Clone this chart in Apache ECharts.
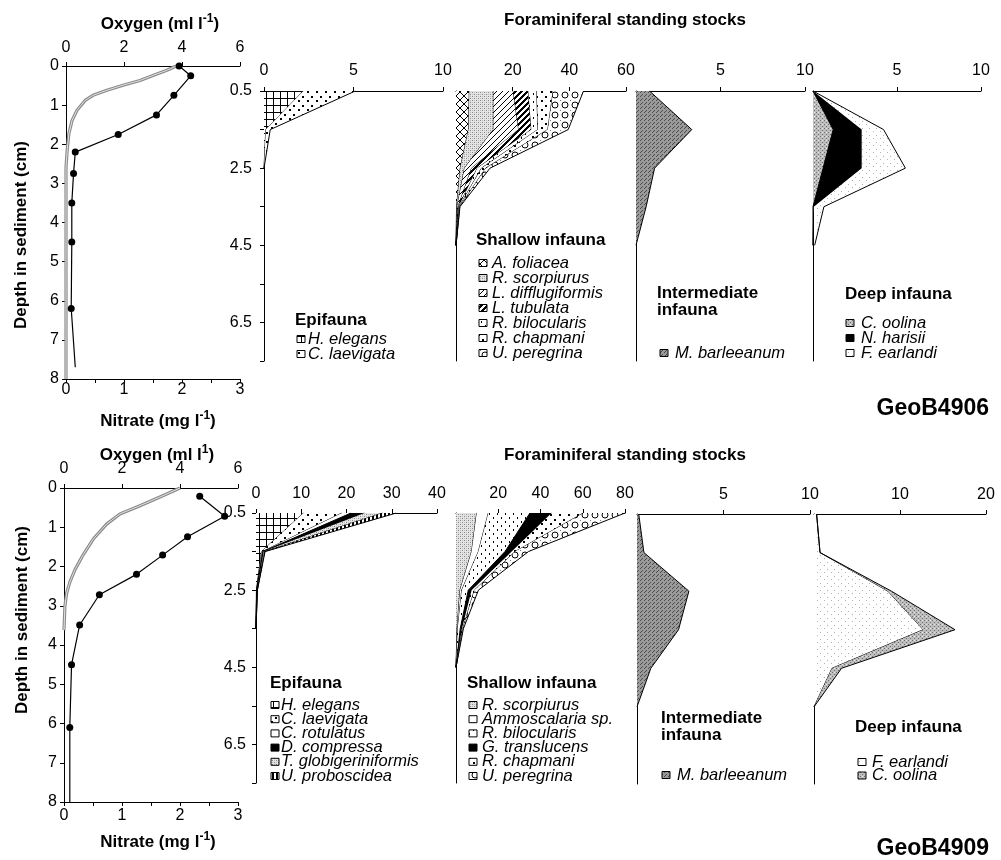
<!DOCTYPE html>
<html><head><meta charset="utf-8">
<script src="https://cdn.jsdelivr.net/npm/echarts@6/dist/echarts.min.js"></script>
<style>html,body{margin:0;padding:0;background:#fff}#c{width:1001px;height:860px}</style>
</head><body><div id="c"></div>
<script>
// ---------------- DATA ----------------
// depth categories of the standing-stock panels (cm)
const stockDepths = ['0.5','1.5','2.5','3.5','4.5','5.5','6.5','7.5'];

// GeoB4906 pore water profiles
const oxyDepth4906 = [0,0.11,0.24,0.37,0.49,0.62,0.75,0.88,1.13,1.39,1.73,2.15,2.6,8];
const oxyVal4906   = [3.8,3.48,3.0,2.55,1.97,1.41,0.93,0.66,0.38,0.21,0.1,0.04,0,0];
const nitDepth4906 = [0,0.25,0.75,1.25,1.75,2.2,2.75,3.5,4.5,6.2,7.7];
const nitVal4906   = [1.95,2.15,1.86,1.56,0.9,0.16,0.13,0.1,0.1,0.09,0.16];

// GeoB4909 pore water profiles
const oxyDepth4909 = [0,0.23,0.45,0.66,0.92,1.3,1.69,2.08,2.38,2.68,3.02,3.62];
const oxyVal4909   = [4.0,3.31,2.62,1.93,1.47,1.01,0.67,0.38,0.21,0.09,0.03,0];
const nitDepth4909 = [0.21,0.72,1.24,1.71,2.2,2.72,3.49,4.5,6.1,8];
const nitVal4909   = [2.34,2.77,2.13,1.70,1.25,0.61,0.27,0.13,0.10,0.10];

// GeoB4906 standing stocks (per depth category)
const epi4906Names = ['H. elegans','C. laevigata'];
const epi4906_Helegans   = [2.2,0.1,0];
const epi4906_Claevigata = [2.9,0.25,0];

const sha4906Names = ['A. foliacea','R. scorpiurus','L. difflugiformis','L. tubulata','R. bilocularis','R. chapmani','U. peregrina'];
const sha4906_Afoliacea       = [4.7,4.4,1.5,0.2,0];
const sha4906_Rscorpiurus     = [8.5,8.8,1.5,0.2,0];
const sha4906_Ldifflugiformis = [7.0,8.9,2.5,0.3,0];
const sha4906_Ltubulata       = [5.3,4.5,2.0,0.2,0];
const sha4906_Rbilocularis    = [3.0,2.3,1.5,0.2,0];
const sha4906_Rchapmani       = [5.8,3.5,1.5,0.2,0];
const sha4906_Uperegrina      = [10.7,7.2,1.5,0.1,0];

const int4906Names = ['M. barleeanum'];
const int4906_Mbarleeanum = [0.8,3.3,1.1,0.6,0];

const deep4906Names = ['C. oolina','N. harisii','F. earlandi'];
const deep4906_Coolina   = [0,1.2,0.6,0,0];
const deep4906_Nharisii  = [0,1.7,2.3,0.05,0];
const deep4906_Fearlandi = [0,1.3,2.6,0.6,0.1];

// GeoB4909 standing stocks
const epi4909Names = ['H. elegans','C. laevigata','C. rotulatus','D. compressa','T. globigeriniformis','U. proboscidea'];
const epi4909_Helegans    = [10.5,1.2,0.1,0];
const epi4909_Claevigata  = [8.5,0.2,0.05,0];
const epi4909_Crotulatus  = [2.0,0.1,0,0];
const epi4909_Dcompressa  = [3.0,0.2,0.1,0];
const epi4909_Tglobig     = [4.0,0.2,0.05,0];
const epi4909_Uproboscidea= [3.0,0.1,0,0];

const sha4909Names = ['R. scorpiurus','Ammoscalaria sp.','R. bilocularis','G. translucens','R. chapmani','U. peregrina'];
const sha4909_Rscorpiurus  = [9.8,7.4,1.9,0.5,0];
const sha4909_Ammoscalaria = [5.5,3.2,0.8,0.3,0];
const sha4909_Rbilocularis = [19.7,12.6,3.1,1.2,0];
const sha4909_Gtranslucens = [10.3,3.2,1.6,0.8,0];
const sha4909_Rchapmani    = [15.0,1.6,1.3,0.4,0];
const sha4909_Uperegrina   = [19.7,6.3,1.9,0.3,0];

const int4909Names = ['M. barleeanum'];
const int4909_Mbarleeanum = [0.1,0.4,3.0,2.4,0.8,0];

const deep4909Names = ['F. earlandi','C. oolina'];
const deep4909_Fearlandi = [0.3,0.7,8.6,12.7,2.1,0];
const deep4909_Coolina   = [0,0,0.4,3.7,1.1,0];

// ---------------- PATTERNS (style) ----------------
function mk(w,h,fn){const c=document.createElement('canvas');c.width=w;c.height=h;const g=c.getContext('2d');fn(g,w,h);return {image:c,repeat:'repeat'};}
function px(g,col,pts){g.fillStyle=col;for(const p of pts)g.fillRect(p[0],p[1],p[2]||1,p[3]||1);}
const PAT = {
  white: mk(4,4,g=>px(g,'#fff',[[0,0,4,4]])),
  black: mk(4,4,g=>px(g,'#000',[[0,0,4,4]])),
  grid: mk(7,7,g=>{px(g,'#fff',[[0,0,7,7]]);px(g,'#000',[[0,0,7,1],[0,0,1,7]]);}),
  dots: mk(9,9,g=>{px(g,'#fff',[[0,0,9,9]]);px(g,'#000',[[1,1,2,2],[5,6,2,2]]);}),
  stipple: mk(4,4,g=>{px(g,'#e4e4e4',[[0,0,4,4]]);px(g,'#8a8a8a',[[0,0],[2,2]]);px(g,'#bbb',[[2,0],[0,2]]);}),
  hatch: mk(6,6,g=>{px(g,'#fff',[[0,0,6,6]]);for(let i=0;i<6;i++)px(g,'#000',[[i,5-i]]);}),
  checker: mk(6,6,g=>{px(g,'#fff',[[0,0,6,6]]);for(let i=0;i<6;i++)px(g,'#000',[[i,5-i],[(i+1)%6,5-i],[(i+2)%6,5-i]]);}),
  dash: mk(8,8,g=>{px(g,'#fff',[[0,0,8,8]]);px(g,'#000',[[1,1,1,2],[5,5,1,2]]);}),
  cross: mk(8,8,g=>{px(g,'#fff',[[0,0,8,8]]);for(let i=0;i<8;i++)px(g,'#000',[[i,i],[i,7-i]]);}),
  circles: mk(10,10,g=>{px(g,'#fff',[[0,0,10,10]]);g.strokeStyle='#000';g.lineWidth=1;g.beginPath();g.arc(5,5,3,0,Math.PI*2);g.stroke();px(g,'#777',[[0,0]]);}),
  gray: mk(4,4,g=>{px(g,'#bdbdbd',[[0,0,4,4]]);px(g,'#6e6e6e',[[0,0],[2,2]]);px(g,'#e8e8e8',[[2,0]]);}),
  dgray: mk(4,4,g=>{px(g,'#9a9a9a',[[0,0,4,4]]);px(g,'#4a4a4a',[[0,0],[2,2],[1,3]]);}),
  sparse: mk(7,7,g=>{px(g,'#fff',[[0,0,7,7]]);px(g,'#b0b0b0',[[1,2],[5,5]]);}),
  vbars: mk(4,4,g=>{px(g,'#fff',[[0,0,4,4]]);px(g,'#000',[[0,0,2,4]]);})
};

// ---------------- BUILD ----------------
const FF = '"Liberation Sans", Arial, Helvetica, sans-serif';
const TICK = 16;
const lab = e => Object.assign({color:'#000', fontSize:TICK, fontFamily:FF}, e||{});
const AL = {show:true, onZero:false, lineStyle:{color:'#000', width:1}};
const AT = {show:true, length:4, lineStyle:{color:'#000', width:1}};
const grids=[], xAxes=[], yAxes=[], series=[], graphics=[];

function addProfile(b, oxyD, oxyV, nitD, nitV){
  const gi = grids.length;
  grids.push({left:b.l, top:b.t, width:b.w, height:b.h, outerBoundsMode:'none', containLabel:false});
  const xo = xAxes.length;
  xAxes.push({type:'value', gridIndex:gi, position:'top', min:0, max:6, interval:2, axisLine:AL, axisTick:AT, splitLine:{show:false}, axisLabel:lab({margin:b.om})});
  const xn = xAxes.length;
  xAxes.push({type:'value', gridIndex:gi, position:'bottom', min:0, max:3, interval:0.5, axisLine:AL, axisTick:AT, splitLine:{show:false},
    axisLabel:lab({margin:b.nm, formatter:v => (Math.abs(v-Math.round(v))<1e-9 ? String(Math.round(v)) : '')})});
  const yi = yAxes.length;
  yAxes.push({type:'value', gridIndex:gi, min:0, max:8, interval:1, inverse:true, axisLine:AL, axisTick:AT, splitLine:{show:false}, axisLabel:lab({margin:7})});
  const oxy = oxyD.map((d,i)=>[oxyV[i], d]);
  series.push({type:'line', name:'Oxygen', xAxisIndex:xo, yAxisIndex:yi, data:oxy, showSymbol:false, symbol:'none', smooth:false,
    lineStyle:{color:'#8a8a8a', width:3.2, join:'round'}, z:3, silent:true});
  series.push({type:'line', name:'Oxygen inner', xAxisIndex:xo, yAxisIndex:yi, data:oxy, showSymbol:false, symbol:'none', smooth:false,
    lineStyle:{color:'#e2e2e2', width:1, join:'round'}, z:4, silent:true});
  const nit = nitD.map((d,i)=>({value:[nitV[i], d], symbol: (d>=7.5 ? 'none' : 'circle')}));
  series.push({type:'line', name:'Nitrate', xAxisIndex:xn, yAxisIndex:yi, data:nit, symbol:'circle', symbolSize:7, showAllSymbol:true,
    itemStyle:{color:'#000'}, lineStyle:{color:'#000', width:1.2}, z:5, silent:true});
}

function addStock(b, max, interval, showMin, showY, names, arrays, pats){
  const gi = grids.length;
  grids.push({left:b.l, top:b.t, width:b.w, height:b.h, outerBoundsMode:'none', containLabel:false});
  const xi = xAxes.length;
  xAxes.push({type:'value', gridIndex:gi, position:'top', min:0, max:max, interval:interval, axisLine:AL, axisTick:AT, splitLine:{show:false},
    axisLabel:lab({margin:b.xm, showMinLabel:showMin})});
  const yi = yAxes.length;
  yAxes.push({type:'category', gridIndex:gi, data:stockDepths, inverse:true, boundaryGap:false, axisLine:AL,
    axisTick:{show:showY, length:4, interval:0, lineStyle:{color:'#000'}},
    axisLabel:lab({show:showY, interval:1, margin:b.ym})});
  const stack = 'st'+gi;
  names.forEach((n,i)=>{
    series.push({type:'line', name:n, xAxisIndex:xi, yAxisIndex:yi, stack:stack, data:arrays[i], symbol:'none', showSymbol:false,
      lineStyle:{color:'#000', width:1}, areaStyle:{color:PAT[pats[i]], opacity:1}, z:2+i*0.01, silent:true});
  });
}

function txt(x,y,text,o){
  o=o||{};
  graphics.push({type:'text', x:x, y:y, rotation:o.rot||0, silent:true,
    style:{text:text, x:0, y:0, fill:'#000', fontSize:o.size||15, fontWeight:o.bold?'bold':'normal', fontStyle:o.italic?'italic':'normal',
      fontFamily:FF, align:o.align||'left', textAlign:o.align||'left', verticalAlign:'middle', textVerticalAlign:'middle'}});
}
function supLabel(x,y,main,sup,tail){
  const base = {fontSize:17, fontWeight:'bold', fontFamily:FF, fill:'#000'};
  graphics.push({type:'text', x:x, y:y, silent:true,
    style:{text:'{a|'+main+'}{s|'+sup+'}{a|'+tail+'}', x:0, y:0, align:'center', textAlign:'center', verticalAlign:'middle', textVerticalAlign:'middle',
      rich:{a:base, s:{fontSize:12, fontWeight:'bold', fontFamily:FF, fill:'#000', padding:[0,0,10,0]}}}});
}
function legend(headX, heads, headY, headStep, swX, txX, itemY, step, names, pats){
  heads.forEach((h,i)=>txt(headX, headY+i*headStep, h, {bold:true, size:17}));
  names.forEach((n,i)=>{
    const y = itemY + i*step;
    graphics.push({type:'rect', silent:true, shape:{x:swX, y:y-3.5, width:8, height:7}, style:{fill:PAT[pats[i]], stroke:'#000', lineWidth:1}});
    txt(txX, y, n, {italic:true, size:16.5});
  });
}

// ---- top: GeoB4906 ----
addProfile({l:66,t:66,w:174,h:313,om:10,nm:3}, oxyDepth4906, oxyVal4906, nitDepth4906, nitVal4906);
addStock({l:264,t:91,w:179,h:270,xm:12,ym:12}, 10, 5, true, true, epi4906Names,
  [epi4906_Helegans, epi4906_Claevigata], ['grid','dots']);
addStock({l:456,t:91,w:170,h:270,xm:12,ym:10}, 60, 20, false, false, sha4906Names,
  [sha4906_Afoliacea, sha4906_Rscorpiurus, sha4906_Ldifflugiformis, sha4906_Ltubulata, sha4906_Rbilocularis, sha4906_Rchapmani, sha4906_Uperegrina],
  ['cross','stipple','hatch','checker','dash','dots','circles']);
addStock({l:636,t:91,w:169,h:270,xm:12,ym:10}, 10, 5, false, false, int4906Names, [int4906_Mbarleeanum], ['dgray']);
addStock({l:813,t:91,w:168,h:270,xm:12,ym:10}, 10, 5, false, false, deep4906Names,
  [deep4906_Coolina, deep4906_Nharisii, deep4906_Fearlandi], ['gray','black','sparse']);

// ---- bottom: GeoB4909 ----
addProfile({l:64,t:488,w:174,h:314,om:11,nm:6}, oxyDepth4909, oxyVal4909, nitDepth4909, nitVal4909);
addStock({l:256,t:513,w:181,h:270,xm:11,ym:10}, 40, 10, true, true, epi4909Names,
  [epi4909_Helegans, epi4909_Claevigata, epi4909_Crotulatus, epi4909_Dcompressa, epi4909_Tglobig, epi4909_Uproboscidea],
  ['grid','dots','white','black','stipple','vbars']);
addStock({l:456,t:513,w:169,h:270,xm:11,ym:10}, 80, 20, false, false, sha4909Names,
  [sha4909_Rscorpiurus, sha4909_Ammoscalaria, sha4909_Rbilocularis, sha4909_Gtranslucens, sha4909_Rchapmani, sha4909_Uperegrina],
  ['stipple','white','dash','black','dots','circles']);
addStock({l:637,t:514,w:173,h:270,xm:11,ym:10}, 10, 5, false, false, int4909Names, [int4909_Mbarleeanum], ['dgray']);
addStock({l:814,t:514,w:172,h:270,xm:11,ym:10}, 20, 10, false, false, deep4909Names,
  [deep4909_Fearlandi, deep4909_Coolina], ['sparse','gray']);

// ---- texts ----
supLabel(160, 24, 'Oxygen (ml l', '-1', ')');
supLabel(158, 421, 'Nitrate (mg l', '-1', ')');
txt(21, 235, 'Depth in sediment (cm)', {bold:true, size:17, align:'center', rot:Math.PI/2});
txt(625, 20, 'Foraminiferal standing stocks', {bold:true, size:17, align:'center'});
txt(989, 409, 'GeoB4906', {bold:true, size:23, align:'right'});

supLabel(157, 455, 'Oxygen (ml l', '1', ')');
supLabel(158, 842, 'Nitrate (mg l', '-1', ')');
txt(22, 620, 'Depth in sediment (cm)', {bold:true, size:17, align:'center', rot:Math.PI/2});
txt(625, 455, 'Foraminiferal standing stocks', {bold:true, size:17, align:'center'});
txt(989, 849, 'GeoB4909', {bold:true, size:23, align:'right'});

// ---- legends ----
legend(295, ['Epifauna'], 320, 0, 297, 308, 339, 15, epi4906Names, ['grid','dots']);
legend(476, ['Shallow infauna'], 240, 0, 479, 492, 263, 15, sha4906Names, ['cross','stipple','hatch','checker','dash','dots','circles']);
legend(657, ['Intermediate','infauna'], 293, 17, 660, 675, 353, 15, int4906Names, ['dgray']);
legend(845, ['Deep infauna'], 294, 0, 846, 861, 323, 15, deep4906Names, ['gray','black','sparse']);

legend(270, ['Epifauna'], 683, 0, 271, 281, 705, 14.2, epi4909Names, ['grid','dots','white','black','stipple','vbars']);
legend(467, ['Shallow infauna'], 683, 0, 469, 482, 705, 14.2, sha4909Names, ['stipple','white','dash','black','dots','circles']);
legend(661, ['Intermediate','infauna'], 718, 17, 662, 677, 775, 15, int4909Names, ['dgray']);
legend(855, ['Deep infauna'], 727, 0, 858, 872, 762, 13.5, deep4909Names, ['sparse','gray']);

const chart = echarts.init(document.getElementById('c'), null, {renderer:'canvas'});
chart.setOption({
  animation:false, backgroundColor:'#fff',
  grid:grids, xAxis:xAxes, yAxis:yAxes, series:series,
  graphic:{elements:graphics}
});
</script>
</body></html>
